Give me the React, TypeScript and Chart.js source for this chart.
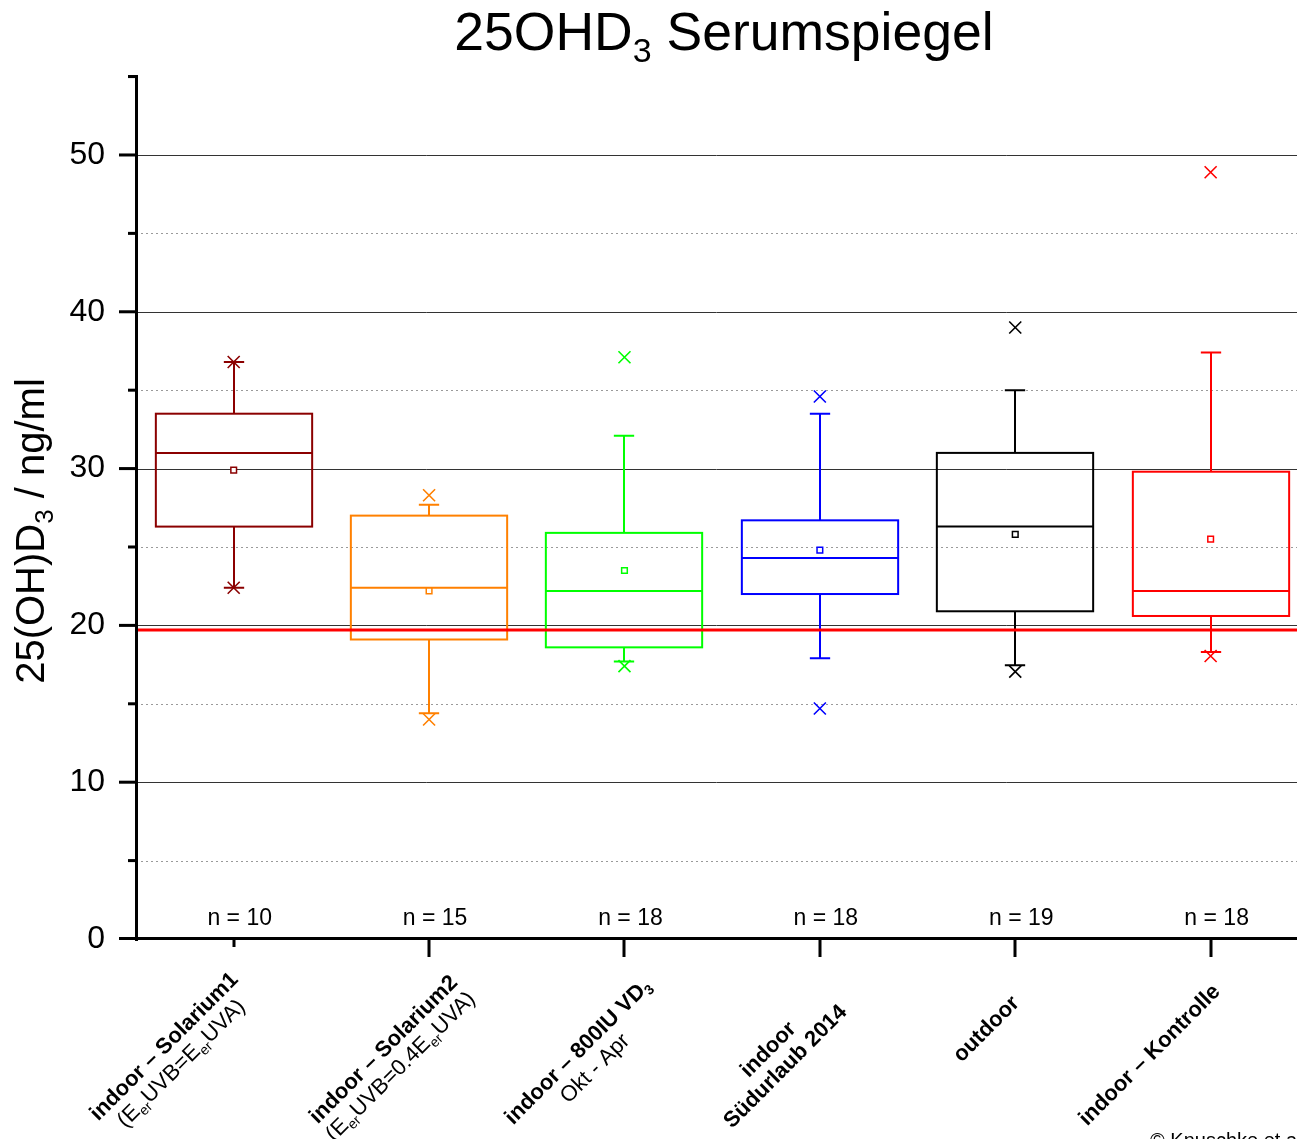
import React, { useEffect, useRef } from 'react';
import { Chart, registerables } from 'chart.js';

Chart.register(...registerables);

// ---------- data ----------
const q1Values = [26.3, 19.1, 18.6, 22.0, 20.9, 20.6];
const medianValues = [31.0, 22.4, 22.2, 24.3, 26.3, 22.2];
const q3Values = [33.5, 27.0, 25.9, 26.7, 31.0, 29.8];
const whiskerLow = [22.4, 14.4, 17.7, 17.9, 17.45, 18.3];
const whiskerHigh = [36.8, 27.7, 32.1, 33.5, 35.0, 37.4];
const meanValues = [29.9, 22.2, 23.5, 24.8, 25.8, 25.5];
const minValues = [22.4, 14.0, 17.4, 14.7, 17.05, 18.05];
const maxValues = [36.8, 28.3, 37.1, 34.6, 39.0, 48.9];
const nCounts = [10, 15, 18, 18, 19, 18];
const thresholdValue = 19.7;
const yTickValues = [0, 10, 20, 30, 40, 50];

type Seg = { t: string; b?: boolean; sub?: boolean };
const categoryLabels: Seg[][][] = [
  [
    [{ t: 'indoor – Solarium1', b: true }],
    [{ t: '(E' }, { t: 'er', sub: true }, { t: 'UVB=E' }, { t: 'er', sub: true }, { t: 'UVA)' }],
  ],
  [
    [{ t: 'indoor – Solarium2', b: true }],
    [{ t: '(E' }, { t: 'er', sub: true }, { t: 'UVB=0.4E' }, { t: 'er', sub: true }, { t: 'UVA)' }],
  ],
  [
    [{ t: 'indoor – 800IU VD', b: true }, { t: '3', b: true, sub: true }],
    [{ t: 'Okt - Apr' }],
  ],
  [
    [{ t: 'indoor', b: true }],
    [{ t: 'Südurlaub 2014', b: true }],
  ],
  [[{ t: 'outdoor', b: true }]],
  [[{ t: 'indoor – Kontrolle', b: true }]],
];
const titleSegs: Seg[] = [{ t: '25OHD' }, { t: '3', sub: true }, { t: ' Serumspiegel' }];
const yTitleSegs: Seg[] = [{ t: '25(OH)D' }, { t: '3', sub: true }, { t: ' / ng/ml' }];
const copyrightText = '© Knuschke et al.';

// ---------- styles / layout ----------
const boxColors = ['#8B0000', '#FF8000', '#00FF00', '#0000FF', '#000000', '#FF0000'];
const FONT = '"Liberation Sans", Arial, Helvetica, sans-serif';
// block centre of rotated category labels: [dx from tick, absolute y]
const labelLayout = [
  [-62, 1054],
  [-38, 1057],
  [-39, 1059],
  [-44, 1057],
  [-30, 1028],
  [-62, 1054],
];

function fontFor(s: Seg, size: number) {
  const sz = s.sub ? Math.round(size * 0.64) : size;
  return `${s.b ? 'bold ' : ''}${sz}px ${FONT}`;
}
function richWidth(ctx: CanvasRenderingContext2D, segs: Seg[], size: number) {
  let w = 0;
  for (const s of segs) {
    ctx.font = fontFor(s, size);
    w += ctx.measureText(s.t).width;
  }
  return w;
}
function drawRich(
  ctx: CanvasRenderingContext2D,
  segs: Seg[],
  x: number,
  y: number,
  size: number,
  align: 'left' | 'center' | 'right'
) {
  const w = richWidth(ctx, segs, size);
  let cx = align === 'center' ? x - w / 2 : align === 'right' ? x - w : x;
  ctx.textAlign = 'left';
  ctx.textBaseline = 'alphabetic';
  for (const s of segs) {
    ctx.font = fontFor(s, size);
    ctx.fillText(s.t, cx, y + (s.sub ? size * 0.22 : 0));
    cx += ctx.measureText(s.t).width;
  }
}

const boxPlugin = {
  id: 'boxDraw',
  beforeDatasetsDraw(chart: any) {
    const { ctx, chartArea: ca, scales } = chart;
    const xs = scales.x;
    const ys = scales.y;
    const right = chart.width;
    ctx.save();
    // minor grid (dotted)
    ctx.strokeStyle = '#9a9a9a';
    ctx.lineWidth = 1;
    ctx.setLineDash([2, 3]);
    for (let v = 5; v < ys.max - 1; v += 10) {
      const py = Math.round(ys.getPixelForValue(v)) + 0.5;
      ctx.beginPath();
      ctx.moveTo(ca.left, py);
      ctx.lineTo(right, py);
      ctx.stroke();
    }
    ctx.setLineDash([]);
    // major grid
    ctx.strokeStyle = '#333333';
    for (const v of yTickValues) {
      if (v === 0) continue;
      const py = Math.round(ys.getPixelForValue(v)) + 0.5;
      ctx.beginPath();
      ctx.moveTo(ca.left, py);
      ctx.lineTo(right, py);
      ctx.stroke();
    }
    // boxes
    const unit = xs.getPixelForValue(2) - xs.getPixelForValue(1);
    const half = unit * 0.4;
    const cap = unit * 0.052;
    ctx.lineWidth = 2;
    for (let i = 0; i < q1Values.length; i++) {
      const cx = Math.round(xs.getPixelForValue(i + 1));
      const yq1 = ys.getPixelForValue(q1Values[i]);
      const yq3 = ys.getPixelForValue(q3Values[i]);
      const ym = ys.getPixelForValue(medianValues[i]);
      const ylo = ys.getPixelForValue(whiskerLow[i]);
      const yhi = ys.getPixelForValue(whiskerHigh[i]);
      ctx.strokeStyle = boxColors[i];
      ctx.strokeRect(cx - half, yq3, half * 2, yq1 - yq3);
      ctx.beginPath();
      ctx.moveTo(cx - half, ym);
      ctx.lineTo(cx + half, ym);
      ctx.moveTo(cx, yq3);
      ctx.lineTo(cx, yhi);
      ctx.moveTo(cx - cap, yhi);
      ctx.lineTo(cx + cap, yhi);
      ctx.moveTo(cx, yq1);
      ctx.lineTo(cx, ylo);
      ctx.moveTo(cx - cap, ylo);
      ctx.lineTo(cx + cap, ylo);
      ctx.stroke();
    }
    // threshold line
    const ty = ys.getPixelForValue(thresholdValue);
    ctx.strokeStyle = '#FF0000';
    ctx.lineWidth = 3;
    ctx.beginPath();
    ctx.moveTo(ca.left, ty);
    ctx.lineTo(right, ty);
    ctx.stroke();
    ctx.restore();
  },
  afterDraw(chart: any) {
    const { ctx, chartArea: ca, scales } = chart;
    const xs = scales.x;
    const ys = scales.y;
    ctx.save();
    ctx.fillStyle = '#000';
    // axes
    ctx.fillRect(ca.left - 1, ca.top, 3, ca.bottom - ca.top + 2);
    ctx.fillRect(ca.left - 17, ca.bottom - 2, chart.width - ca.left + 17, 3);
    ctx.fillRect(ca.left - 8, ca.top, 8, 3);
    // y ticks
    for (let v = 5; v < ys.max; v += 5) {
      const py = ys.getPixelForValue(v);
      const major = v % 10 === 0;
      const len = major ? 17 : 8;
      ctx.fillRect(ca.left - len, py - 1.5, len, 3);
    }
    // x ticks
    for (let i = 0; i < q1Values.length; i++) {
      const cx = xs.getPixelForValue(i + 1);
      ctx.fillRect(Math.round(cx) - 1.5, ca.bottom, 3, i === 0 ? 8 : 18);
    }
    // n labels
    ctx.font = `23px ${FONT}`;
    ctx.textAlign = 'center';
    ctx.textBaseline = 'alphabetic';
    for (let i = 0; i < nCounts.length; i++) {
      const cx = xs.getPixelForValue(i + 1);
      ctx.fillText(`n = ${nCounts[i]}`, cx + 6, ca.bottom - 14);
    }
    // category labels
    for (let i = 0; i < categoryLabels.length; i++) {
      const cx = xs.getPixelForValue(i + 1) + labelLayout[i][0];
      const cy = labelLayout[i][1];
      const lines = categoryLabels[i];
      ctx.save();
      ctx.translate(cx, cy);
      ctx.rotate(-Math.PI / 4);
      for (let l = 0; l < lines.length; l++) {
        const ly = (l - (lines.length - 1) / 2) * 24;
        drawRich(ctx, lines[l], 0, ly + 22 * 0.36, 22, 'center');
      }
      ctx.restore();
    }
    // title
    drawRich(ctx, titleSegs, 724, 50, 53.5, 'center');
    // y title
    ctx.save();
    ctx.translate(44, 531);
    ctx.rotate(-Math.PI / 2);
    drawRich(ctx, yTitleSegs, 0, 0, 40, 'center');
    ctx.restore();
    // copyright
    ctx.font = `20px ${FONT}`;
    ctx.textAlign = 'left';
    ctx.fillText(copyrightText, 1150, 1147);
    ctx.restore();
  },
};

export default function App() {
  const ref = useRef<HTMLCanvasElement>(null);
  useEffect(() => {
    const canvas = ref.current!;
    const chart = new Chart(canvas, {
      type: 'scatter',
      data: {
        datasets: [
          {
            label: 'Mittelwert',
            data: meanValues.map((v, i) => ({ x: i + 1, y: v })),
            pointStyle: 'rect',
            pointRadius: 4,
            pointBorderWidth: 1.5,
            pointBorderColor: boxColors,
            pointBackgroundColor: '#ffffff',
            showLine: false,
          },
          {
            label: 'Min/Max',
            data: [
              ...minValues.map((v, i) => ({ x: i + 1, y: v })),
              ...maxValues.map((v, i) => ({ x: i + 1, y: v })),
            ],
            pointStyle: 'crossRot',
            pointRadius: 8.5,
            pointBorderWidth: 1.6,
            pointBorderColor: [...boxColors, ...boxColors],
            pointBackgroundColor: [...boxColors, ...boxColors],
            showLine: false,
          },
        ],
      },
      options: {
        responsive: false,
        animation: false,
        devicePixelRatio: 1,
        layout: { autoPadding: false, padding: { top: 75, right: 0, bottom: 200, left: 0 } },
        plugins: {
          legend: { display: false },
          tooltip: { enabled: false },
          title: { display: false },
        },
        scales: {
          x: { type: 'linear', display: false, min: 0.5, max: 6.442 },
          y: {
            type: 'linear',
            min: 0,
            max: 55.1,
            afterFit: (s: any) => {
              s.width = 136;
            },
            grid: { display: false, drawTicks: false },
            border: { display: false },
            ticks: {
              stepSize: 10,
              includeBounds: false,
              padding: 31,
              color: '#000',
              font: { family: FONT, size: 32 },
            },
          },
        },
      },
      plugins: [boxPlugin],
    } as any);
    return () => chart.destroy();
  }, []);
  return (
    <div style={{ position: 'fixed', left: 0, top: 0, width: 1297, height: 1139, background: '#fff' }}>
      <canvas ref={ref} width={1297} height={1139} style={{ display: 'block' }} />
    </div>
  );
}
